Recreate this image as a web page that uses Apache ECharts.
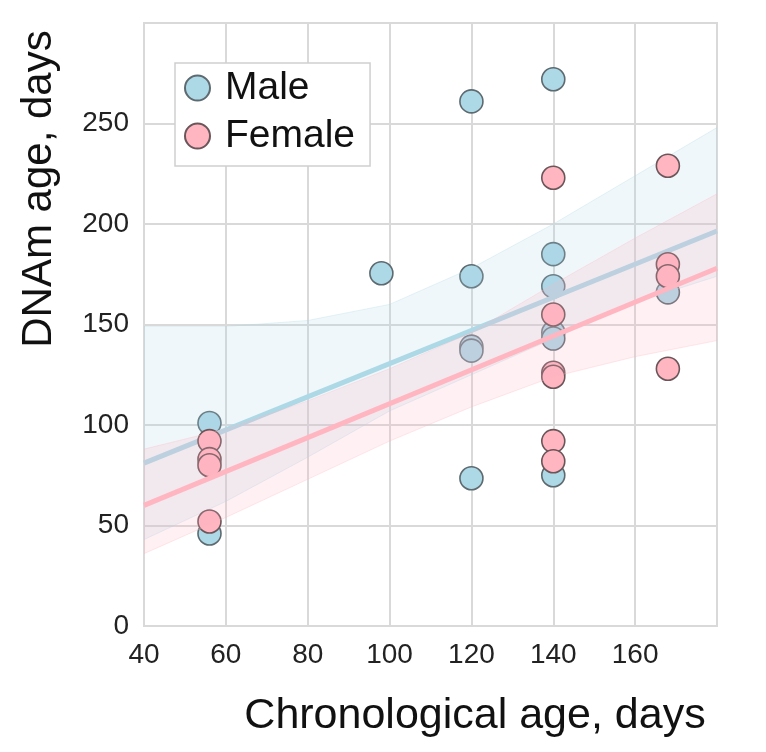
<!DOCTYPE html>
<html>
<head>
<meta charset="utf-8">
<script src="https://cdn.jsdelivr.net/npm/echarts@6/dist/echarts.min.js"></script>
<style>
html,body{margin:0;padding:0;background:#fff;}
#c{width:766px;height:752px;}
</style>
</head>
<body>
<div id="c"></div>
<script>
// ---- data ----
const maleX = [56, 56, 98, 120, 120, 120, 120, 120, 140, 140, 140, 140, 140, 140, 168];
const maleY = [101, 46, 175.5, 261, 174, 139, 137, 73.5, 272, 185, 169, 146, 143, 75, 166];
const femaleX = [56, 56, 56, 56, 140, 140, 140, 140, 140, 140, 168, 168, 168, 168];
const femaleY = [92, 83, 80, 52, 223, 155, 126, 124, 92, 82, 229, 180, 174, 128];
const fitX = [40, 180];
const maleFit = [81, 196.5];
const femaleFit = [60, 178];
const bandX = [40, 60, 80, 100, 120, 140, 160, 180];
const maleLower = [43, 62, 84, 107, 125, 143, 161, 174];
const maleUpper = [149, 149, 152, 160, 178, 200, 224, 248];
const femaleLower = [36, 54, 73, 92, 109, 124, 134, 142];
const femaleUpper = [88, 98, 112, 128, 146, 170, 193, 215];
const xTicks = [40, 60, 80, 100, 120, 140, 160];
const yTicks = [0, 50, 100, 150, 200, 250];
const seriesNames = ['Male', 'Female'];
const xTitle = 'Chronological age, days';
const yTitle = 'DNAm age, days';

const FONT = '"Liberation Sans", Arial, Helvetica, sans-serif';
const BLUE = '#add8e6';
const PINK = '#ffb6c1';
const GRIDC = '#d9d9d9';

function pairs(xs, ys) { return xs.map((x, i) => [x, ys[i]]); }

function bandSeries(lower, upper, fill, stroke, z) {
  const data = bandX.map((x, i) => [x, lower[i], upper[i]]);
  return {
    type: 'custom',
    z: z,
    silent: true,
    clip: true,
    data: data,
    encode: { x: 0, y: [1, 2] },
    renderItem: function (params, api) {
      if (params.dataIndex !== 0) return null;
      const pts = [];
      for (let i = 0; i < data.length; i++) pts.push(api.coord([data[i][0], data[i][2]]));
      for (let i = data.length - 1; i >= 0; i--) pts.push(api.coord([data[i][0], data[i][1]]));
      return {
        type: 'polygon',
        shape: { points: pts },
        style: { fill: fill, stroke: stroke, lineWidth: 1 }
      };
    }
  };
}

const chart = echarts.init(document.getElementById('c'), null, { renderer: 'canvas' });
chart.setOption({
  animation: false,
  backgroundColor: '#ffffff',
  grid: {
    left: 144, right: 49, top: 23, bottom: 126,
    show: true, borderColor: GRIDC, borderWidth: 2, backgroundColor: 'transparent'
  },
  xAxis: {
    type: 'value', min: 40, max: 180, interval: 20,
    axisLine: { show: false }, axisTick: { show: false },
    splitLine: { show: true, lineStyle: { color: GRIDC, width: 2 } },
    axisLabel: {
      margin: 15, fontSize: 28, color: '#222', fontFamily: FONT,
      showMaxLabel: false,
      formatter: v => xTicks.indexOf(v) >= 0 ? String(v) : ''
    }
  },
  yAxis: {
    type: 'value', min: 0, max: 300, interval: 50,
    axisLine: { show: false }, axisTick: { show: false },
    splitLine: { show: true, lineStyle: { color: GRIDC, width: 2 } },
    axisLabel: {
      margin: 15, fontSize: 28, color: '#222', fontFamily: FONT,
      showMaxLabel: false,
      formatter: v => yTicks.indexOf(v) >= 0 ? String(v) : ''
    }
  },
  legend: {
    data: seriesNames,
    orient: 'vertical',
    left: 175, top: 63,
    padding: [3, 15, 8, 9],
    itemGap: 4,
    itemWidth: 25, itemHeight: 25,
    icon: 'circle',
    backgroundColor: '#fff',
    borderColor: '#cfcfcf', borderWidth: 1.5,
    textStyle: { fontSize: 39, lineHeight: 44, color: '#111', fontFamily: FONT, padding: [0, 0, 0, 10] }
  },
  graphic: [
    {
      type: 'text', x: 475, y: 716,
      style: { text: xTitle, font: '43px ' + FONT, fill: '#111', textAlign: 'center', textVerticalAlign: 'middle' }
    },
    {
      type: 'text', x: 39, y: 189, rotation: Math.PI / 2,
      style: { text: yTitle, font: '42px ' + FONT, fill: '#111', textAlign: 'center', textVerticalAlign: 'middle' }
    }
  ],
  series: [
    {
      name: seriesNames[0], type: 'scatter', z: 2,
      data: pairs(maleX, maleY), symbolSize: 23,
      itemStyle: { color: BLUE, borderColor: '#5d6a70', borderWidth: 1.6, opacity: 1 }
    },
    bandSeries(maleLower, maleUpper, 'rgba(173,216,230,0.2)', 'rgba(173,216,230,0.3)', 3),
    {
      name: 'maleFit', type: 'line', z: 4, data: pairs(fitX, maleFit),
      showSymbol: false, silent: true,
      lineStyle: { color: BLUE, width: 5 }
    },
    {
      name: seriesNames[1], type: 'scatter', z: 5,
      data: pairs(femaleX, femaleY), symbolSize: 23,
      itemStyle: { color: PINK, borderColor: '#6a5559', borderWidth: 1.6, opacity: 1 }
    },
    bandSeries(femaleLower, femaleUpper, 'rgba(255,182,193,0.2)', 'rgba(255,182,193,0.3)', 6),
    {
      name: 'femaleFit', type: 'line', z: 7, data: pairs(fitX, femaleFit),
      showSymbol: false, silent: true,
      lineStyle: { color: PINK, width: 5 }
    }
  ]
});
</script>
</body>
</html>
